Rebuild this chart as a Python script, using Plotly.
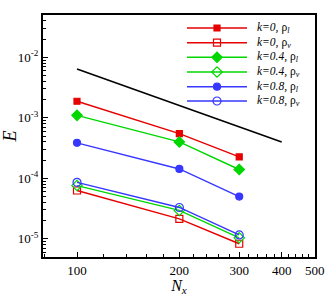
import plotly.graph_objects as go

# ---- data ----
nx = [100, 200, 300]
ref_nx = [100, 400]
ref_E = [6.4e-3, 4.0e-4]
series_names = ["k=0, ρl", "k=0, ρv", "k=0.4, ρl", "k=0.4, ρv", "k=0.8, ρl", "k=0.8, ρv"]
k0_rl = [1.88e-3, 5.5e-4, 2.26e-4]
k0_rv = [6.3e-5, 2.14e-5, 8.3e-6]
k04_rl = [1.10e-3, 4.0e-4, 1.40e-4]
k04_rv = [7.6e-5, 2.95e-5, 1.04e-5]
k08_rl = [3.86e-4, 1.43e-4, 5.0e-5]
k08_rv = [8.6e-5, 3.3e-5, 1.16e-5]
x_ticks = [100, 200, 300, 400, 500]
y_ticks = [1e-5, 1e-4, 1e-3, 1e-2]
y_ticktext = ["10<sup>-5</sup>", "10<sup>-4</sup>", "10<sup>-3</sup>", "10<sup>-2</sup>"]
legend_labels = [
    "<i>k=0,</i> ρ<sub><i>l</i></sub>",
    "<i>k=0,</i> ρ<sub><i>v</i></sub>",
    "<i>k=0.4,</i> ρ<sub><i>l</i></sub>",
    "<i>k=0.4,</i> ρ<sub><i>v</i></sub>",
    "<i>k=0.8,</i> ρ<sub><i>l</i></sub>",
    "<i>k=0.8,</i> ρ<sub><i>v</i></sub>",
]

RED = "rgb(230,0,0)"
GREEN = "rgb(0,215,0)"
BLUE = "rgb(55,55,255)"
FONT = "Liberation Serif"

styles = [
    (k0_rl, RED, "square", 6),
    (k0_rv, RED, "square-open", 7),
    (k04_rl, GREEN, "diamond", 8),
    (k04_rv, GREEN, "diamond-open", 8),
    (k08_rl, BLUE, "circle", 7),
    (k08_rv, BLUE, "circle-open", 8),
]

fig = go.Figure()
fig.add_trace(go.Scatter(x=ref_nx, y=ref_E, mode="lines",
                         line=dict(color="black", width=1.6), showlegend=False))
for (vals, col, sym, sz), name in zip(styles, series_names):
    fig.add_trace(go.Scatter(x=nx, y=vals, mode="lines+markers", name=name,
                             line=dict(color=col, width=1.4),
                             marker=dict(symbol=sym, size=sz, color=col,
                                         line=dict(color=col, width=1.2)),
                             showlegend=False))

# ---- hand-drawn legend on an overlay axis (pixel units of plot area) ----
PW, PH = 272, 242
row_y = [13, 27.7, 42.3, 57, 71.7, 86]
x0, x1, xm, xt = 144, 204, 174, 212
for (vals, col, sym, sz), yy, lab in zip(styles, row_y, legend_labels):
    fig.add_trace(go.Scatter(x=[x0, x1], y=[yy, yy], mode="lines",
                             line=dict(color=col, width=1.4), xaxis="x2", yaxis="y2",
                             showlegend=False, hoverinfo="skip"))
    fig.add_trace(go.Scatter(x=[xm], y=[yy], mode="markers",
                             marker=dict(symbol=sym, size=sz, color=col,
                                         line=dict(color=col, width=1.2)),
                             xaxis="x2", yaxis="y2", showlegend=False, hoverinfo="skip"))
    fig.add_annotation(x=xt, y=yy, xref="x2", yref="y2", text=lab, showarrow=False,
                       xanchor="left", yanchor="middle",
                       font=dict(family=FONT, size=11.5, color="black"))

fig.update_layout(
    width=332, height=296,
    margin=dict(l=43, r=17, t=15, b=39),
    paper_bgcolor="white", plot_bgcolor="white",
    font=dict(family=FONT, size=13, color="black"),
    xaxis=dict(type="log", range=[1.9, 2.7], tickvals=x_ticks,
               ticktext=[str(v) for v in x_ticks],
               ticks="inside", ticklen=5, tickwidth=1, tickcolor="black",
               minor=dict(tickvals=[80, 120, 140, 160, 180, 220, 240, 260, 280,
                                    320, 340, 360, 380, 420, 440, 460, 480],
                          ticks="inside", ticklen=3, tickcolor="black"),
               showline=True, linewidth=2, linecolor="black", mirror=True,
               showgrid=False, zeroline=False, automargin=False,
               title=dict(text="<i>N<sub>x</sub></i>", font=dict(size=16), standoff=0),
               tickfont=dict(size=13)),
    yaxis=dict(type="log", range=[-5.3, -1.3], tickvals=y_ticks, ticktext=y_ticktext,
               ticks="inside", ticklen=5, tickwidth=1, tickcolor="black",
               minor=dict(dtick="D1", ticks="inside", ticklen=3, tickcolor="black"),
               showline=True, linewidth=2, linecolor="black", mirror=True,
               showgrid=False, zeroline=False, automargin=False,
               title=dict(text="<i>E</i>", font=dict(size=18), standoff=2),
               tickfont=dict(size=13)),
    xaxis2=dict(overlaying="x", range=[0, PW], visible=False, fixedrange=True),
    yaxis2=dict(overlaying="y", range=[PH, 0], visible=False, fixedrange=True),
)

fig.write_html("out.html", config={"displayModeBar": False},
               post_script="document.body.style.margin='0px';document.body.style.overflow='hidden';")
